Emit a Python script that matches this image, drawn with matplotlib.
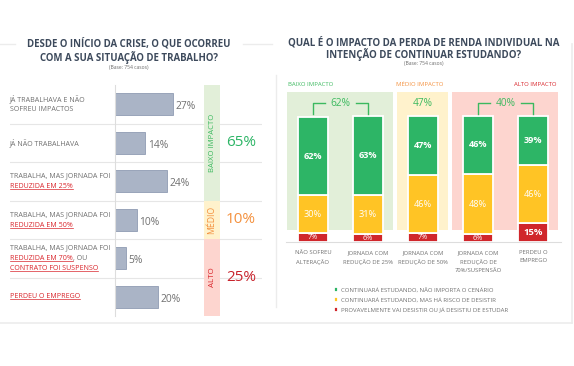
import matplotlib
matplotlib.use("Agg")
import matplotlib.pyplot as plt
from matplotlib.lines import Line2D
from matplotlib.transforms import blended_transform_factory as blend

plt.rcParams['font.family'] = ['Open Sans', 'DejaVu Sans']

# ---------------- data ----------------
left_title = "DESDE O INÍCIO DA CRISE, O QUE OCORREU\nCOM A SUA SITUAÇÃO DE TRABALHO?"
left_base = "(Base: 754 casos)"
# each label: list of lines; each line: list of (text, highlighted)
left_labels = [
    [[("JÁ TRABALHAVA E NÃO", False)], [("SOFREU IMPACTOS", False)]],
    [[("JÁ NÃO TRABALHAVA", False)]],
    [[("TRABALHA, MAS JORNADA FOI", False)], [("REDUZIDA EM 25%", True)]],
    [[("TRABALHA, MAS JORNADA FOI", False)], [("REDUZIDA EM 50%", True)]],
    [[("TRABALHA, MAS JORNADA FOI", False)], [("REDUZIDA EM 70%", True), (", OU", False)],
     [("CONTRATO FOI SUSPENSO", True)]],
    [[("PERDEU O EMPREGO", True)]],
]
left_values = [27, 14, 24, 10, 5, 20]
left_groups = ["BAIXO IMPACTO", "MÉDIO", "ALTO"]
left_group_sizes = [3, 1, 2]
left_group_totals = [65, 10, 25]

right_title = "QUAL É O IMPACTO DA PERDA DE RENDA INDIVIDUAL NA\nINTENÇÃO DE CONTINUAR ESTUDANDO?"
right_base = "(Base: 754 casos)"
right_categories = ["NÃO SOFREU\nALTERAÇÃO", "JORNADA COM\nREDUÇÃO DE 25%", "JORNADA COM\nREDUÇÃO DE 50%",
                    "JORNADA COM\nREDUÇÃO DE\n70%/SUSPENSÃO", "PERDEU O\nEMPREGO"]
series_names = ["CONTINUARÁ ESTUDANDO, NÃO IMPORTA O CENÁRIO",
                "CONTINUARÁ ESTUDANDO, MAS HÁ RISCO DE DESISTIR",
                "PROVAVELMENTE VAI DESISTIR OU JÁ DESISTIU DE ESTUDAR"]
continua = [62, 63, 47, 46, 39]
risco = [30, 31, 46, 48, 46]
desistir = [7, 6, 7, 6, 15]
right_groups = ["BAIXO IMPACTO", "MÉDIO IMPACTO", "ALTO IMPACTO"]
right_group_members = [[0, 1], [2], [3, 4]]
right_group_totals = [62, 47, 40]

# ---------------- style ----------------
GREEN = "#2db566"
GREEN_T = "#3cb95f"
YELLOW = "#ffc425"
RED = "#d0262b"
ORANGE = "#f4913e"
TEXT_RED = "#d9262c"
GRAY = "#6b6b6b"
TITLE = "#3d4a5c"
BG = ["#e2efd9", "#fff2cc", "#fdd5cf"]
GROUP_TXT = [GREEN_T, ORANGE, TEXT_RED]
BIG_TXT = [GREEN, ORANGE, "#c8232c"]

W, H = 574, 366
fig = plt.figure(figsize=(W / 100, H / 100), dpi=100)


def rect(x0, y0, x1, y1):
    return [x0 / W, 1 - y1 / H, (x1 - x0) / W, (y1 - y0) / H]


def fline(xs, ys, **kw):
    fig.add_artist(Line2D([x / W for x in xs], [1 - y / H for y in ys],
                          transform=fig.transFigure, **kw))


# frame decorations
fc = "#ececec"
fline([0, 15], [44, 44], color=fc, lw=1)
fline([243, 272], [44, 44], color=fc, lw=1)
fline([276, 276], [75, 307], color=fc, lw=1)
fline([0, 572], [323, 323], color=fc, lw=1.2)
fline([572, 572], [44, 323], color=fc, lw=1.2)

# ---------------- left panel ----------------
fig.text(129 / W, 1 - 51 / H, left_title, ha="center", va="center", fontsize=6.9,
         fontweight="bold", color=TITLE, linespacing=1.08)
fig.text(129 / W, 1 - 68 / H, left_base, ha="center", va="center", fontsize=3.6, color=GRAY)

n = len(left_values)
axL = fig.add_axes(rect(10, 85, 262, 316))
axL.set_xlim(0, 1)
axL.set_ylim(n - 0.5, -0.5)
axL.axis("off")
for b in range(n - 1):
    axL.axhline(b + 0.5, color="#e6e6e6", lw=0.8)

ax1 = fig.add_axes(rect(115, 85, 200, 316), sharey=axL)
ax1.patch.set_alpha(0)
ax1.set_xlim(0, 85 / 2.15)
ax1.barh(range(n), left_values, height=0.56, color="#aab4c6", edgecolor="#8f9bb3", lw=0.6)
for i, v in enumerate(left_values):
    ax1.text(v + 1.3, i + 0.06, f"{v}%", va="center", ha="left", fontsize=7.4, color="#707070")
for s in ["top", "right", "bottom"]:
    ax1.spines[s].set_visible(False)
ax1.spines["left"].set_color("#dddddd")
ax1.spines["left"].set_linewidth(0.8)
ax1.set_xticks([])
ax1.tick_params(left=False, labelleft=False)

# row labels
tr = blend(fig.transFigure, axL.transData)
red_texts = []
for i, lines in enumerate(left_labels):
    nl = len(lines)
    for j, segs in enumerate(lines):
        y = i + (j - (nl - 1) / 2) * 0.275
        prev = None
        for txt, hl in segs:
            col = TEXT_RED if hl else "#707070"
            if prev is None:
                t = fig.text(10 / W, 0, txt, fontsize=5.1, color=col, va="center", ha="left",
                             transform=tr)
                t.set_position((10 / W, y))
            else:
                t = axL.annotate(txt, xy=(1, 0), xycoords=prev, va="bottom", ha="left",
                                 fontsize=5.1, color=col)
            if hl:
                red_texts.append(t)
            prev = t

# impact band
axb = fig.add_axes(rect(204, 85, 220, 316), sharey=axL)
axb.set_xlim(0, 1)
axb.axis("off")
band_fs = [5.6, 6.2, 5.8]
start = 0
for g, (name, size, tot) in enumerate(zip(left_groups, left_group_sizes, left_group_totals)):
    y0, y1 = start - 0.5, start + size - 0.5
    axb.axhspan(y0, y1, color=BG[g], lw=0)
    axb.text(0.5, (y0 + y1) / 2, name, rotation=90, ha="center", va="center",
             fontsize=band_fs[g], color=GROUP_TXT[g])
    axL.text(241 / W, (y0 + y1) / 2, f"{tot}%", transform=tr, ha="center", va="center",
             fontsize=11, color=BIG_TXT[g])
    start += size

# ---------------- right panel ----------------
fig.text(424 / W, 1 - 49 / H, right_title, ha="center", va="center", fontsize=7.0,
         fontweight="bold", color=TITLE, linespacing=0.98)
fig.text(424 / W, 1 - 63 / H, right_base, ha="center", va="center", fontsize=3.6, color=GRAY)

ax2 = fig.add_axes(rect(285.5, 92, 560.5, 242))
ax2.set_xlim(-0.5, len(continua) - 0.5)
ax2.set_ylim(0, 150 / 1.26)
ax2.patch.set_alpha(0)
for s in ["top", "right", "left"]:
    ax2.spines[s].set_visible(False)
ax2.spines["bottom"].set_color("#dddddd")
ax2.spines["bottom"].set_linewidth(0.8)
ax2.set_yticks([])

bg_bottom = 12 / 1.26
for g, mem in enumerate(right_group_members):
    x0, x1 = mem[0] - 0.47, mem[-1] + 0.45
    ax2.fill_between([x0, x1], bg_bottom, 150 / 1.26, color=BG[g], lw=0, zorder=0)
    tb = blend(ax2.transData, ax2.transAxes)
    if g == 0:
        ax2.text(x0 + 0.02, 1.047, right_groups[g], transform=tb,
                 ha="left", va="center", fontsize=4.3, color=GROUP_TXT[g])
    elif g == 1:
        ax2.text(x0 - 0.02, 1.047, right_groups[g], transform=tb,
                 ha="left", va="center", fontsize=4.3, color=GROUP_TXT[g])
    else:
        ax2.text(x1 - 0.03, 1.047, right_groups[g], transform=tb,
                 ha="right", va="center", fontsize=4.3, color=GROUP_TXT[g])

x = range(len(continua))
bw = 0.56
b_red = ax2.bar(x, desistir, width=bw, color=RED, edgecolor="white", lw=1.3, zorder=2,
                label=series_names[2])
b_yel = ax2.bar(x, risco, width=bw, bottom=desistir, color=YELLOW, edgecolor="white", lw=1.3,
                zorder=2, label=series_names[1])
bottoms = [a + b for a, b in zip(desistir, risco)]
b_grn = ax2.bar(x, continua, width=bw, bottom=bottoms, color=GREEN, edgecolor="white", lw=1.3,
                zorder=2, label=series_names[0])

for i in x:
    ax2.text(i, desistir[i] / 2, f"{desistir[i]}%", ha="center", va="center", color="white",
             fontsize=6.8 if desistir[i] > 10 else 5.2,
             fontweight="bold" if desistir[i] > 10 else "normal", zorder=3)
    ax2.text(i, desistir[i] + risco[i] / 2, f"{risco[i]}%", ha="center", va="center", color="white",
             fontsize=6.6, zorder=3)
    ax2.text(i, bottoms[i] + continua[i] / 2, f"{continua[i]}%", ha="center", va="center",
             color="white", fontsize=6.6, fontweight="bold", zorder=3)

# brackets
yb = (242 - 103) / 1.26
yt = (242 - 114) / 1.26
for mem, tot in zip(right_group_members, right_group_totals):
    xc = (mem[0] + mem[-1]) / 2
    if len(mem) > 1:
        gap = 0.29
        ax2.plot([mem[0], mem[0], xc - gap], [yt, yb, yb], color=GREEN_T, lw=1, zorder=3)
        ax2.plot([xc + gap, mem[-1], mem[-1]], [yb, yb, yt], color=GREEN_T, lw=1, zorder=3)
    ax2.text(xc, yb, f"{tot}%", ha="center", va="center", color=GREEN_T, fontsize=7.3, zorder=3)

ax2.set_xticks(list(x))
ax2.set_xticklabels(right_categories, fontsize=4.2, color="#707070", linespacing=1.75)
ax2.tick_params(axis="x", length=0, pad=6)

ax2.legend(handles=[b_grn, b_yel, b_red], loc="upper left", bbox_to_anchor=(332 / W, 1 - 285 / H),
           bbox_transform=fig.transFigure, frameon=False, fontsize=4.3, handlelength=0.55,
           handleheight=0.75, handletextpad=0.5, labelspacing=0.75, borderaxespad=0,
           labelcolor="#707070")

# underline highlighted texts
fig.canvas.draw()
r = fig.canvas.get_renderer()
for t in red_texts:
    bb = t.get_window_extent(r)
    yy = bb.y0 + 1.0
    fig.add_artist(Line2D([bb.x0 / W, bb.x1 / W], [yy / H, yy / H], transform=fig.transFigure,
                          color=TEXT_RED, lw=0.5))

fig.savefig("out.png", dpi=100)
